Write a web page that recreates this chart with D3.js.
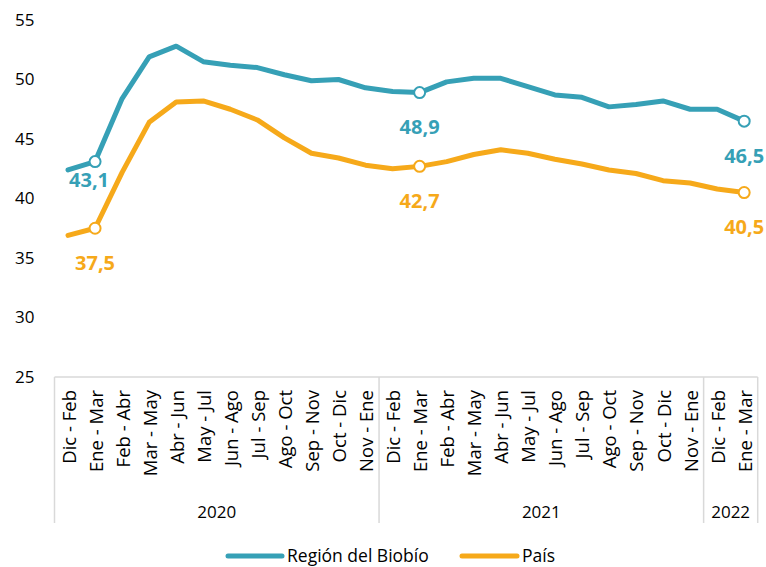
<!DOCTYPE html>
<html>
<head>
<meta charset="utf-8">
<script src="https://cdn.jsdelivr.net/npm/d3@7"></script>
<style>
  html, body { margin: 0; padding: 0; background: #fff; }
  svg { display: block; font-family: "Open Sans", sans-serif; }
</style>
</head>
<body>
<svg id="chart" width="766" height="567"></svg>
<script>
const categories = [
  "Dic - Feb","Ene - Mar","Feb - Abr","Mar - May","Abr - Jun","May - Jul",
  "Jun - Ago","Jul - Sep","Ago - Oct","Sep - Nov","Oct - Dic","Nov - Ene",
  "Dic - Feb","Ene - Mar","Feb - Abr","Mar - May","Abr - Jun","May - Jul",
  "Jun - Ago","Jul - Sep","Ago - Oct","Sep - Nov","Oct - Dic","Nov - Ene",
  "Dic - Feb","Ene - Mar"
];
const years = ["2020", "2021", "2022"];
const yearCounts = [12, 12, 2];
const seriesNames = ["Región del Biobío", "País"];
const biobio = [42.4, 43.1, 48.4, 51.9, 52.8, 51.5, 51.2, 51.0, 50.4, 49.9, 50.0, 49.3,
                49.0, 48.9, 49.8, 50.1, 50.1, 49.4, 48.7, 48.5, 47.7, 47.9, 48.2, 47.5,
                47.5, 46.5];
const pais   = [36.9, 37.5, 42.2, 46.4, 48.1, 48.2, 47.5, 46.6, 45.1, 43.8, 43.4, 42.8,
                42.5, 42.7, 43.1, 43.7, 44.1, 43.8, 43.3, 42.9, 42.4, 42.1, 41.5, 41.3,
                40.8, 40.5];
const markedIdx = [1, 13, 25];
const yTicks = [25, 30, 35, 40, 45, 50, 55];

const colors = ["#36a0b6", "#f6a91a"];
const svg = d3.select("#chart");

const plotLeft = 54.5, plotRight = 757.7, plotTop = 20, plotBottom = 377;
const x = d3.scaleBand().domain(d3.range(categories.length)).range([plotLeft, plotRight]).padding(0);
const y = d3.scaleLinear().domain([25, 55]).range([plotBottom, plotTop]);
const cx = i => x(i) + x.bandwidth() / 2;

// Y axis labels
const yAxis = d3.axisLeft(y).tickValues(yTicks).tickSize(0).tickPadding(20).tickFormat(d3.format("d"));
const ya = svg.append("g").attr("transform", `translate(${plotLeft},0)`).call(yAxis);
ya.select(".domain").remove();
ya.selectAll("text").attr("font-family", "Open Sans, sans-serif").attr("font-size", 17).attr("fill", "#000");

// X axis baseline and group separators
const gridCol = "#d9d9d9";
svg.append("line").attr("x1", plotLeft).attr("x2", plotRight).attr("y1", plotBottom).attr("y2", plotBottom)
  .attr("stroke", gridCol).attr("stroke-width", 1.5);
let acc = 0;
const bounds = [0];
yearCounts.forEach(c => { acc += c; bounds.push(acc); });
bounds.forEach(b => {
  const bx = b < categories.length ? x(b) : plotRight;
  svg.append("line").attr("x1", bx).attr("x2", bx).attr("y1", plotBottom).attr("y2", 523)
    .attr("stroke", gridCol).attr("stroke-width", 1.5);
});

// Category labels (rotated)
svg.append("g").selectAll("text").data(categories).join("text")
  .attr("transform", (d, i) => `translate(${cx(i)},390) rotate(-90)`)
  .attr("text-anchor", "end")
  .attr("dominant-baseline", "central")
  .attr("font-size", 18.5)
  .attr("fill", "#000")
  .text(d => d);

// Year labels
years.forEach((yr, k) => {
  const x0 = x(bounds[k]);
  const x1 = bounds[k + 1] < categories.length ? x(bounds[k + 1]) : plotRight;
  svg.append("text").attr("x", (x0 + x1) / 2).attr("y", 511)
    .attr("text-anchor", "middle").attr("dominant-baseline", "central")
    .attr("font-size", 17).attr("fill", "#000").text(yr);
});

// Lines
const series = [biobio, pais];
const line = d3.line().x((d, i) => cx(i)).y(d => y(d));
series.forEach((s, k) => {
  svg.append("path").datum(s).attr("d", line)
    .attr("fill", "none").attr("stroke", colors[k]).attr("stroke-width", 5)
    .attr("stroke-linejoin", "round").attr("stroke-linecap", "round");
});

// Markers and labels
const fmt = v => d3.format(".1f")(v).replace(".", ",");
series.forEach((s, k) => {
  markedIdx.forEach(i => {
    svg.append("circle").attr("cx", cx(i)).attr("cy", y(s[i])).attr("r", 5.5)
      .attr("fill", "#fff").attr("stroke", colors[k]).attr("stroke-width", 2);
    let dx = 0, dy = 34;
    if (k === 0 && i === markedIdx[0]) { dx = -6; dy = 18; }
    svg.append("text").attr("x", cx(i) + dx).attr("y", y(s[i]) + dy)
      .attr("text-anchor", "middle").attr("dominant-baseline", "central")
      .attr("font-size", 20).attr("font-weight", "bold").attr("fill", colors[k])
      .text(fmt(s[i]));
  });
});

// Legend
const legendItems = [
  { x1: 228, x2: 282, tx: 287 },
  { x1: 462, x2: 517, tx: 522 }
];
seriesNames.forEach((name, k) => {
  const it = legendItems[k];
  svg.append("line").attr("x1", it.x1).attr("x2", it.x2).attr("y1", 556).attr("y2", 556)
    .attr("stroke", colors[k]).attr("stroke-width", 5).attr("stroke-linecap", "round");
  svg.append("text").attr("x", it.tx).attr("y", 555).attr("dominant-baseline", "central")
    .attr("font-size", 17.5).attr("fill", "#000").text(name);
});
</script>
</body>
</html>
